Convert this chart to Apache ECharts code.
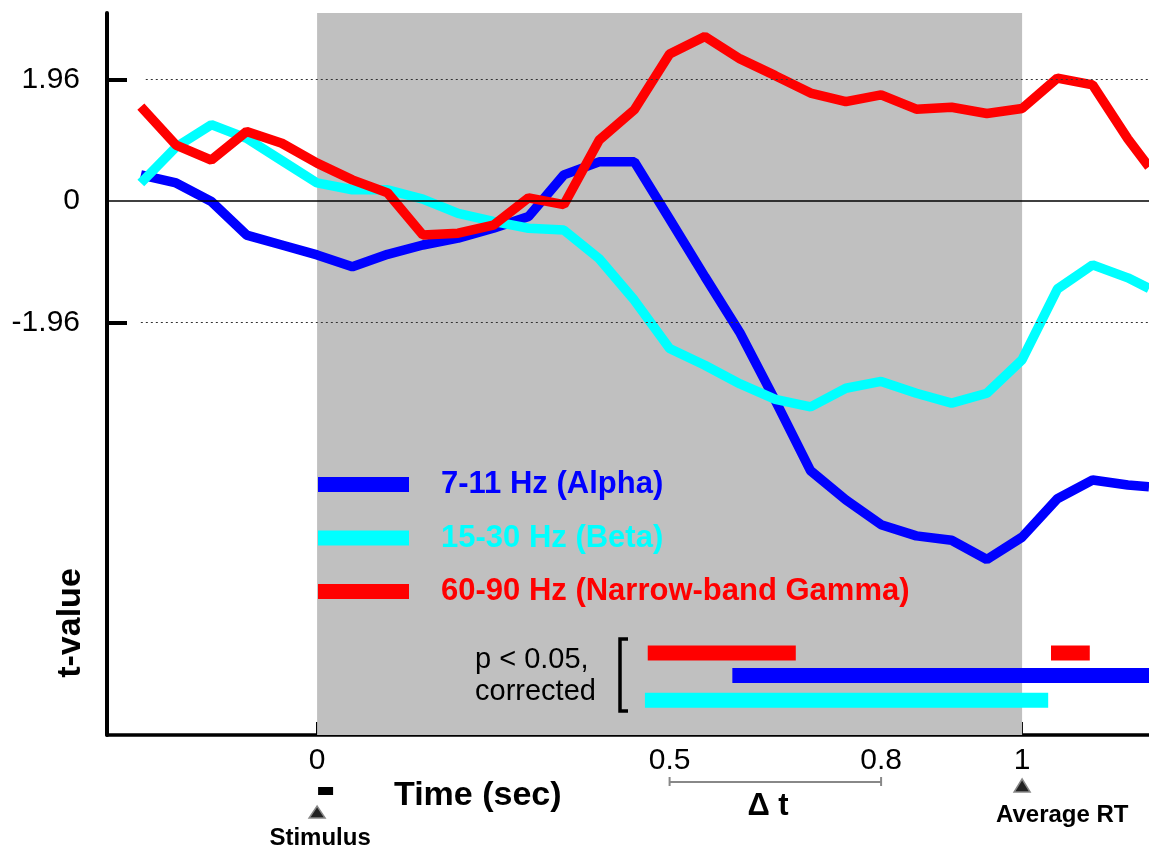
<!DOCTYPE html>
<html>
<head>
<meta charset="utf-8">
<script src="https://cdn.jsdelivr.net/npm/echarts@6/dist/echarts.min.js"></script>
<style>
html,body{margin:0;padding:0;background:#fff;}
#chart{width:1149px;height:853px;}
</style>
</head>
<body>
<div id="chart"></div>
<script>
// ---- data ----
const times = [-0.25,-0.2,-0.15,-0.1,-0.05,0,0.05,0.1,0.15,0.2,0.25,0.3,0.35,0.4,0.45,0.5,0.55,0.6,0.65,0.7,0.75,0.8,0.85,0.9,0.95,1.0,1.05,1.1,1.15,1.18];
const alpha = [0.42,0.29,-0.01,-0.55,-0.71,-0.87,-1.06,-0.86,-0.71,-0.6,-0.44,-0.25,0.42,0.63,0.63,-0.29,-1.22,-2.13,-3.22,-4.35,-4.82,-5.22,-5.40,-5.47,-5.78,-5.42,-4.8,-4.5,-4.58,-4.61];
const beta  = [0.29,0.87,1.23,1.01,0.65,0.29,0.18,0.18,0.03,-0.2,-0.33,-0.44,-0.47,-0.93,-1.6,-2.38,-2.65,-2.95,-3.2,-3.32,-3.02,-2.91,-3.1,-3.26,-3.1,-2.56,-1.42,-1.03,-1.24,-1.41];
const gamma = [1.52,0.9,0.66,1.12,0.93,0.61,0.34,0.13,-0.55,-0.52,-0.39,0.05,-0.06,0.98,1.47,2.37,2.65,2.29,2.02,1.74,1.6,1.71,1.48,1.51,1.41,1.49,1.98,1.87,1.0,0.55];
const seriesNames = ['7-11 Hz (Alpha)','15-30 Hz (Beta)','60-90 Hz (Narrow-band Gamma)'];
const seriesColors = ['#0000ff','#00ffff','#ff0000'];
// significance intervals (sec) and their row level (t-value units)
const sigGamma = [[0.469,0.679],[1.041,1.096]];
const sigAlpha = [[0.589,1.18]];
const sigBeta  = [[0.465,1.037]];
const sigRows  = [-7.29,-7.65,-8.05]; // gamma, alpha, beta
const yTickValues = [-1.96, 1.96];
const yLabelValues = [-1.96, 0, 1.96];
const xTickValues = [0, 0.5, 0.8, 1];
const taskWindow = [0, 1];
const deltaT = [0.5, 0.8];

const FONT = 'Liberation Sans, Arial, sans-serif';
const chart = echarts.init(document.getElementById('chart'));

function pairs(vals){ return times.map((t,i)=>[t, vals[i]]); }

const sigSeries = [];
[[sigGamma,0,2],[sigAlpha,1,0],[sigBeta,2,1]].forEach(([segs,row,ci])=>{
  segs.forEach(s=>{
    sigSeries.push({
      type:'line', silent:true, symbol:'none', z:4,
      lineStyle:{width:15, color:seriesColors[ci], cap:'butt'},
      data:[[s[0], sigRows[row]],[s[1], sigRows[row]]]
    });
  });
});

const option = {
  animation:false,
  grid:{left:107, right:0, top:13, bottom:118, containLabel:false},
  xAxis:{
    type:'value', min:-0.298, max:1.18,
    axisLine:{show:true, onZero:false, lineStyle:{color:'#000', width:3.5}},
    axisTick:{show:true, inside:true, length:13, customValues:xTickValues, lineStyle:{color:'#000', width:2}},
    axisLabel:{show:true, customValues:xTickValues, fontSize:30, color:'#000', fontFamily:FONT, margin:11,
      formatter:v=>String(v)},
    splitLine:{show:false}
  },
  yAxis:{
    type:'value', min:-8.61, max:3.03,
    axisLine:{show:true, onZero:false, lineStyle:{color:'#000', width:4}},
    axisTick:{show:true, inside:true, length:20, customValues:yTickValues, lineStyle:{color:'#000', width:4}},
    axisLabel:{show:true, customValues:yLabelValues, fontSize:30, color:'#000', fontFamily:FONT, margin:27,
      formatter:v=> v===0 ? '0' : v.toFixed(2)},
    splitLine:{show:false}
  },
  legend:{
    orient:'vertical', left:318, top:469, padding:0, icon:'rect', itemWidth:91, itemHeight:15, itemGap:22.5,
    selectedMode:false,
    textStyle:{fontSize:31, fontWeight:'bold', fontFamily:FONT, lineHeight:31, padding:[0,0,0,27]},
    data:seriesNames.map((n,i)=>({name:n, textStyle:{color:seriesColors[i]}}))
  },
  series:[
    {
      type:'line', name:'_bg', silent:true, z:0, data:[], symbol:'none',
      markArea:{silent:true, itemStyle:{color:'#c0c0c0'}, data:[[{xAxis:taskWindow[0], yAxis:-8.61},{xAxis:taskWindow[1], yAxis:3.03}]]}
    },
    {
      type:'line', name:'_ref', silent:true, z:1, data:[], symbol:'none',
      markLine:{silent:true, symbol:'none', label:{show:false},
        data:[
          [{coord:[-0.298,0], lineStyle:{type:'solid', color:'#000', width:1.5}},{coord:[1.18,0]}],
          [{coord:[-0.243,1.96], lineStyle:{type:[2,3], color:'#333', width:1}},{coord:[1.18,1.96]}],
          [{coord:[-0.25,-1.96], lineStyle:{type:[2,3], color:'#333', width:1}},{coord:[1.18,-1.96]}]
        ]}
    },
    ...[alpha,beta,gamma].map((vals,i)=>({
      type:'line', name:seriesNames[i], data:pairs(vals), symbol:'none', z:3,
      lineStyle:{width:9.5, color:seriesColors[i]}, itemStyle:{color:seriesColors[i]}, clip:true
    })),
    ...sigSeries
  ]
};
chart.setOption(option);

// annotations positioned through the axis scale
const px = t => chart.convertToPixel({xAxisIndex:0}, t);
const x0 = px(taskWindow[0]), x1 = px(taskWindow[1]);
const d0 = px(deltaT[0]), d1 = px(deltaT[1]);
const G = (o)=>Object.assign({z:100}, o);
chart.setOption({
  graphic:[
    G({type:'text', x:71, y:623, rotation:Math.PI/2, style:{text:'t-value', font:'bold 34px '+FONT, fill:'#000', align:'center', verticalAlign:'middle'}}),
    G({type:'text', x:394, y:796, style:{text:'Time (sec)', font:'bold 34px '+FONT, fill:'#000', align:'left', verticalAlign:'middle'}}),
    G({type:'rect', shape:{x:x0+1, y:787, width:15, height:8}, style:{fill:'#000'}}),
    G({type:'polygon', shape:{points:[[x0-8,818],[x0+8,818],[x0,806]]}, style:{fill:'#222', stroke:'#888', lineWidth:1.5}}),
    G({type:'text', x:x0+3, y:838, style:{text:'Stimulus', font:'bold 24px '+FONT, fill:'#000', align:'center', verticalAlign:'middle'}}),
    G({type:'polygon', shape:{points:[[x1-8,792],[x1+8,792],[x1,779]]}, style:{fill:'#222', stroke:'#888', lineWidth:1.5}}),
    G({type:'text', x:996, y:815, style:{text:'Average RT', font:'bold 24px '+FONT, fill:'#000', align:'left', verticalAlign:'middle'}}),
    G({type:'polyline', shape:{points:[[d0,777],[d0,786],[d0,782],[d1,782],[d1,777],[d1,786]]}, style:{stroke:'#888', lineWidth:2, fill:null}}),
    G({type:'text', x:768, y:806, style:{text:'Δ t', font:'bold 31px '+FONT, fill:'#000', align:'center', verticalAlign:'middle'}}),
    G({type:'text', x:475, y:660, style:{text:'p < 0.05,', font:'29px '+FONT, fill:'#000', align:'left', verticalAlign:'middle'}}),
    G({type:'text', x:475, y:692, style:{text:'corrected', font:'29px '+FONT, fill:'#000', align:'left', verticalAlign:'middle'}}),
    G({type:'polyline', shape:{points:[[628,639],[620,639],[620,711],[628,711]]}, style:{stroke:'#000', lineWidth:3.5, fill:null}})
  ]
});
</script>
</body>
</html>
